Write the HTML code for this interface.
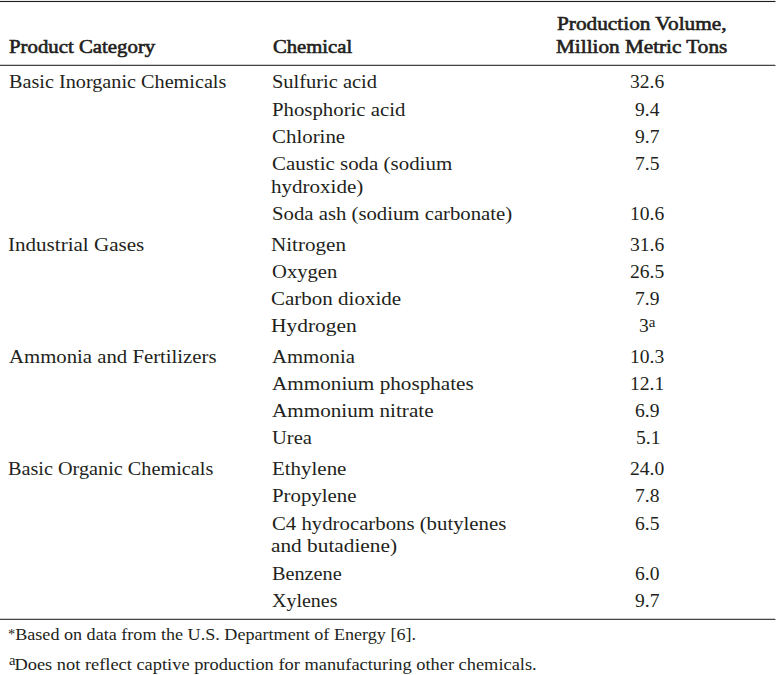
<!DOCTYPE html>
<html><head><meta charset="utf-8"><style>
body{margin:0;background:#fff;}
.t{position:absolute;white-space:nowrap;font-family:"Liberation Serif",serif;color:#231f20;line-height:30px;transform-origin:0 0;}
.b{font-weight:normal;-webkit-text-stroke:0.6px #231f20;}
sup{vertical-align:0;position:relative;line-height:0;}
sup.n{font-size:14.5px;top:-4.9px;}
sup.f{font-size:14px;top:-5px;margin-right:-1px;}
sup.ast{font-size:14px;top:-1.3px;}

html,body{width:776px;height:675px;overflow:hidden;position:relative;}
</style></head><body>
<div class='t b' style='left:9.20px;top:31.90px;font-size:19px;transform:scaleX(1.0955)'>Product Category</div>
<div class='t b' style='left:272.80px;top:31.90px;font-size:19px;transform:scaleX(1.0877)'>Chemical</div>
<div class='t b' style='left:556.80px;top:8.90px;font-size:19px;transform:scaleX(1.1205)'>Production Volume,</div>
<div class='t b' style='left:556.30px;top:31.80px;font-size:19px;transform:scaleX(1.1157)'>Million Metric Tons</div>
<div class='t' style='left:8.54px;top:66.80px;font-size:19px;transform:scaleX(1.0635)'>Basic Inorganic Chemicals</div>
<div class='t' style='left:8.09px;top:229.70px;font-size:19px;transform:scaleX(1.1083)'>Industrial Gases</div>
<div class='t' style='left:9.20px;top:341.70px;font-size:19px;transform:scaleX(1.0926)'>Ammonia and Fertilizers</div>
<div class='t' style='left:8.14px;top:453.90px;font-size:19px;transform:scaleX(1.0649)'>Basic Organic Chemicals</div>
<div class='t' style='left:271.52px;top:66.80px;font-size:19px;transform:scaleX(1.0760)'>Sulfuric acid</div>
<div class='t' style='left:271.51px;top:94.60px;font-size:19px;transform:scaleX(1.0942)'>Phosphoric acid</div>
<div class='t' style='left:271.50px;top:121.80px;font-size:19px;transform:scaleX(1.1000)'>Chlorine</div>
<div class='t' style='left:271.50px;top:148.80px;font-size:19px;transform:scaleX(1.1012)'>Caustic soda (sodium</div>
<div class='t' style='left:271.49px;top:171.90px;font-size:19px;transform:scaleX(1.1073)'>hydroxide)</div>
<div class='t' style='left:271.51px;top:198.50px;font-size:19px;transform:scaleX(1.0917)'>Soda ash (sodium carbonate)</div>
<div class='t' style='left:271.49px;top:229.70px;font-size:19px;transform:scaleX(1.1106)'>Nitrogen</div>
<div class='t' style='left:271.52px;top:256.60px;font-size:19px;transform:scaleX(1.0847)'>Oxygen</div>
<div class='t' style='left:271.49px;top:283.90px;font-size:19px;transform:scaleX(1.1052)'>Carbon dioxide</div>
<div class='t' style='left:271.47px;top:310.80px;font-size:19px;transform:scaleX(1.1280)'>Hydrogen</div>
<div class='t' style='left:271.80px;top:341.70px;font-size:19px;transform:scaleX(1.0908)'>Ammonia</div>
<div class='t' style='left:271.80px;top:368.60px;font-size:19px;transform:scaleX(1.1144)'>Ammonium phosphates</div>
<div class='t' style='left:271.80px;top:395.70px;font-size:19px;transform:scaleX(1.1131)'>Ammonium nitrate</div>
<div class='t' style='left:271.52px;top:422.60px;font-size:19px;transform:scaleX(1.0806)'>Urea</div>
<div class='t' style='left:271.50px;top:453.90px;font-size:19px;transform:scaleX(1.1015)'>Ethylene</div>
<div class='t' style='left:271.50px;top:480.80px;font-size:19px;transform:scaleX(1.0974)'>Propylene</div>
<div class='t' style='left:271.51px;top:508.80px;font-size:19px;transform:scaleX(1.0934)'>C4 hydrocarbons (butylenes</div>
<div class='t' style='left:271.48px;top:530.80px;font-size:19px;transform:scaleX(1.1216)'>and butadiene)</div>
<div class='t' style='left:271.53px;top:558.80px;font-size:19px;transform:scaleX(1.0656)'>Benzene</div>
<div class='t' style='left:271.55px;top:585.80px;font-size:19px;transform:scaleX(1.0508)'>Xylenes</div>
<div class='t' style='left:630.09px;top:66.80px;font-size:19px;transform:scaleX(1.0300)'>32.6</div>
<div class='t' style='left:634.73px;top:94.60px;font-size:19px;transform:scaleX(1.0300)'>9.4</div>
<div class='t' style='left:635.24px;top:121.80px;font-size:19px;transform:scaleX(1.0300)'>9.7</div>
<div class='t' style='left:635.24px;top:148.80px;font-size:19px;transform:scaleX(1.0300)'>7.5</div>
<div class='t' style='left:629.58px;top:198.50px;font-size:19px;transform:scaleX(1.0300)'>10.6</div>
<div class='t' style='left:630.09px;top:229.70px;font-size:19px;transform:scaleX(1.0300)'>31.6</div>
<div class='t' style='left:630.09px;top:256.60px;font-size:19px;transform:scaleX(1.0300)'>26.5</div>
<div class='t' style='left:635.24px;top:283.90px;font-size:19px;transform:scaleX(1.0300)'>7.9</div>
<div class='t' style='left:638.85px;top:310.80px;font-size:19px;transform:scaleX(1.0300)'>3<sup class=n>a</sup></div>
<div class='t' style='left:629.58px;top:341.70px;font-size:19px;transform:scaleX(1.0300)'>10.3</div>
<div class='t' style='left:630.09px;top:368.60px;font-size:19px;transform:scaleX(1.0300)'>12.1</div>
<div class='t' style='left:635.24px;top:395.70px;font-size:19px;transform:scaleX(1.0300)'>6.9</div>
<div class='t' style='left:635.75px;top:422.60px;font-size:19px;transform:scaleX(1.0300)'>5.1</div>
<div class='t' style='left:630.09px;top:453.90px;font-size:19px;transform:scaleX(1.0300)'>24.0</div>
<div class='t' style='left:635.24px;top:480.80px;font-size:19px;transform:scaleX(1.0300)'>7.8</div>
<div class='t' style='left:635.24px;top:508.80px;font-size:19px;transform:scaleX(1.0300)'>6.5</div>
<div class='t' style='left:635.24px;top:558.80px;font-size:19px;transform:scaleX(1.0300)'>6.0</div>
<div class='t' style='left:635.24px;top:585.80px;font-size:19px;transform:scaleX(1.0300)'>9.7</div>
<div class='t' style='left:7.87px;top:618.90px;font-size:17.6px;transform:scaleX(1.0289)'><sup class=ast>*</sup>Based on data from the U.S. Department of Energy [6].</div>
<div class='t' style='left:8.80px;top:648.90px;font-size:17.6px;transform:scaleX(1.0450)'><sup class=f>a</sup>Does not reflect captive production for manufacturing other chemicals.</div>
<div style='position:absolute;left:0px;width:775px;top:0px;height:1px;background:#ececec'></div>
<div style='position:absolute;left:0px;width:775px;top:1px;height:1px;background:#201e1f'></div>
<div style='position:absolute;left:775px;width:1px;top:1px;height:1px;background:#8a8a8a'></div>
<div style='position:absolute;left:0px;width:775px;top:2px;height:1px;background:#f4f4f4'></div>
<div style='position:absolute;left:0px;width:775px;top:64px;height:1px;background:#cdcdcd'></div>
<div style='position:absolute;left:0px;width:775px;top:65px;height:1px;background:#454344'></div>
<div style='position:absolute;left:775px;width:1px;top:65px;height:1px;background:#a0a0a0'></div>
<div style='position:absolute;left:0px;width:775px;top:618px;height:1px;background:#cdcdcd'></div>
<div style='position:absolute;left:0px;width:775px;top:619px;height:1px;background:#444444'></div>
<div style='position:absolute;left:775px;width:1px;top:619px;height:1px;background:#a0a0a0'></div>
</body></html>
